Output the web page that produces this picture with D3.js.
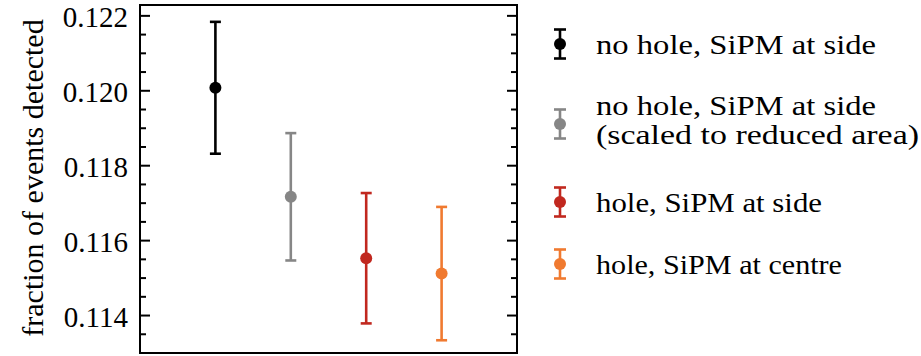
<!DOCTYPE html>
<html><head><meta charset="utf-8">
<script src="https://cdn.jsdelivr.net/npm/d3@7"></script>
</head><body style="margin:0;background:#fff">
<svg id="s" width="921" height="356"></svg>
<script>
const labels = ["no hole, SiPM at side", "no hole, SiPM at side\n(scaled to reduced area)", "hole, SiPM at side", "hole, SiPM at centre"];
const positions = [1, 2, 3, 4];
const values = [0.12008, 0.11717, 0.11553, 0.11512];
const errors = [0.00176, 0.00170, 0.00174, 0.00178];
const colors = ["#000000", "#868686", "#c1281f", "#f07a30"];
const yTicks = [0.114, 0.116, 0.118, 0.120, 0.122];
const yTickLabels = ["0.114", "0.116", "0.118", "0.120", "0.122"];
const yMinorTicks = [0.1130, 0.1135, 0.1145, 0.1150, 0.1155, 0.1165, 0.1170, 0.1175, 0.1185, 0.1190, 0.1195, 0.1205, 0.1210, 0.1215];

const svg = d3.select("#s");
const L = 140, R = 517, T = 5, B = 353;
const x = d3.scaleLinear().domain([0, 5]).range([L, R]);
const y = d3.scaleLinear().domain([0.11300, 0.12229]).range([B, T]);
const fam = "'Liberation Serif', serif";

// tick labels
yTicks.forEach((d, i) => {
  svg.append("text").attr("x", L - 12).attr("y", y(d) + 11)
    .attr("text-anchor", "end").attr("font-family", fam).attr("font-size", 29)
    .attr("fill", "#000").text(yTickLabels[i]);
});

// y label
svg.append("text")
  .attr("transform", `translate(43,${(T + B) / 2 - 1}) rotate(-90)`)
  .attr("text-anchor", "middle").attr("font-family", fam).attr("font-size", 30)
  .attr("fill", "#000").text("fraction of events detected");

// legend texts
const legY = [44, 124, 202, 264];
const lineWidths = {"no hole, SiPM at side": 280, "(scaled to reduced area)": 323, "hole, SiPM at side": 226, "hole, SiPM at centre": 246};
labels.forEach((d, i) => {
  const lines = d.split("\n");
  const off = lines.length === 1 ? 10 : -9;
  lines.forEach((ln, j) => {
    svg.append("text").attr("x", 596).attr("y", legY[i] + off + j * 28.5)
      .attr("font-family", fam).attr("font-size", 27).attr("fill", "#000")
      .attr("textLength", lineWidths[ln]).attr("lengthAdjust", "spacingAndGlyphs")
      .text(ln);
  });
});

// ticks drawn from the y scale (inward on both sides)
const tickData = yTicks.map(v => ({v, len: 10})).concat(yMinorTicks.map(v => ({v, len: 6})));
[[L, 1], [R, -1]].forEach(([px, dir]) => {
  svg.append("g").selectAll("line").data(tickData).join("line")
    .attr("x1", px).attr("x2", d => px + dir * d.len)
    .attr("y1", d => y(d.v)).attr("y2", d => y(d.v))
    .attr("stroke", "#000").attr("stroke-width", 2);
});

// frame
svg.append("rect").attr("x", L).attr("y", T).attr("width", R - L).attr("height", B - T)
  .attr("fill", "none").attr("stroke", "#000").attr("stroke-width", 2);

// error bars
const cap = 5.5;
const pts = svg.append("g").selectAll("g").data(values).join("g");
pts.append("line").attr("x1", (d, i) => x(positions[i])).attr("x2", (d, i) => x(positions[i]))
  .attr("y1", (d, i) => y(d - errors[i])).attr("y2", (d, i) => y(d + errors[i]))
  .attr("stroke", (d, i) => colors[i]).attr("stroke-width", 2.6);
pts.append("line").attr("x1", (d, i) => x(positions[i]) - cap).attr("x2", (d, i) => x(positions[i]) + cap)
  .attr("y1", (d, i) => y(d + errors[i])).attr("y2", (d, i) => y(d + errors[i]))
  .attr("stroke", (d, i) => colors[i]).attr("stroke-width", 2.6);
pts.append("line").attr("x1", (d, i) => x(positions[i]) - cap).attr("x2", (d, i) => x(positions[i]) + cap)
  .attr("y1", (d, i) => y(d - errors[i])).attr("y2", (d, i) => y(d - errors[i]))
  .attr("stroke", (d, i) => colors[i]).attr("stroke-width", 2.6);
pts.append("circle").attr("cx", (d, i) => x(positions[i])).attr("cy", d => y(d))
  .attr("r", 6).attr("fill", (d, i) => colors[i]);

// legend markers
const leg = svg.append("g").selectAll("g").data(labels).join("g")
  .attr("transform", (d, i) => `translate(560,${legY[i]})`);
leg.append("line").attr("x1", 0).attr("x2", 0).attr("y1", -14.5).attr("y2", 14.5)
  .attr("stroke", (d, i) => colors[i]).attr("stroke-width", 2.6);
leg.append("line").attr("x1", -6).attr("x2", 6).attr("y1", -14.5).attr("y2", -14.5)
  .attr("stroke", (d, i) => colors[i]).attr("stroke-width", 2.6);
leg.append("line").attr("x1", -6).attr("x2", 6).attr("y1", 14.5).attr("y2", 14.5)
  .attr("stroke", (d, i) => colors[i]).attr("stroke-width", 2.6);
leg.append("circle").attr("r", 6).attr("fill", (d, i) => colors[i]);
</script>
</body></html>
